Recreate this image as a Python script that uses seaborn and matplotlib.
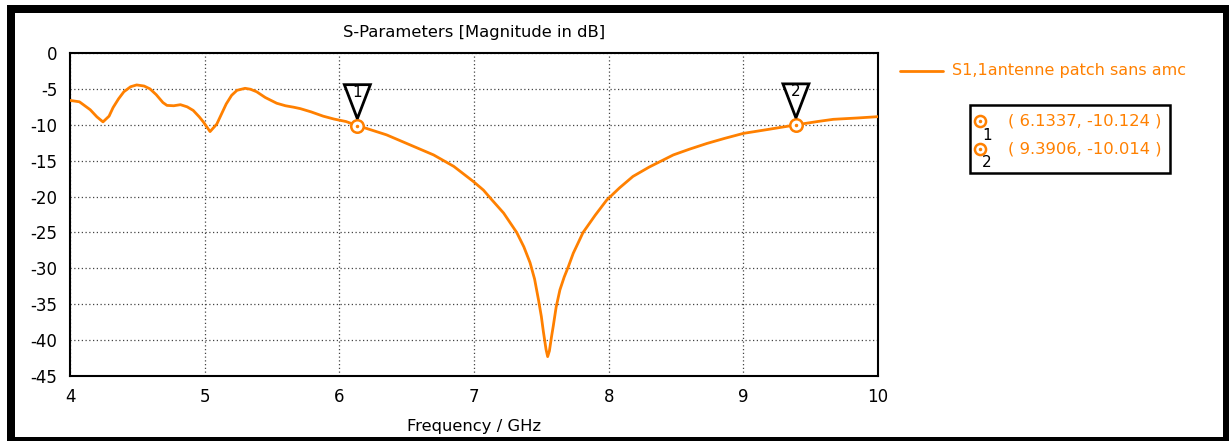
import numpy as np
import pandas as pd
import matplotlib
matplotlib.use("Agg")
import matplotlib.pyplot as plt
import matplotlib.transforms as mtransforms
from matplotlib.patches import Polygon, Rectangle
from matplotlib.lines import Line2D
import seaborn as sns

# ---- data ----
freq_ghz = [4.00, 4.07, 4.15, 4.20, 4.245, 4.29, 4.32, 4.36, 4.40, 4.45, 4.495, 4.55,
            4.594, 4.64, 4.69, 4.72, 4.77, 4.82, 4.87, 4.915, 4.96, 4.99, 5.04, 5.09,
            5.12, 5.16, 5.20, 5.24, 5.30, 5.34, 5.386, 5.45, 5.535, 5.60, 5.66, 5.71,
            5.79, 5.88, 5.96, 6.05, 6.1337, 6.2, 6.35, 6.45, 6.6, 6.7, 6.85, 6.995,
            7.07, 7.13, 7.22, 7.317, 7.37, 7.416, 7.45, 7.478, 7.50, 7.515, 7.535,
            7.547, 7.56, 7.575, 7.589, 7.61, 7.638, 7.67, 7.70, 7.737, 7.81, 7.90,
            7.985, 8.08, 8.18, 8.30, 8.48, 8.60, 8.73, 8.86, 9.0, 9.2, 9.3906, 9.55,
            9.668, 9.85, 10.0]
s11_db = [-6.6, -6.8, -7.9, -8.9, -9.6, -8.8, -7.6, -6.4, -5.4, -4.7, -4.45, -4.6,
          -5.0, -5.8, -6.9, -7.3, -7.35, -7.2, -7.5, -8.0, -8.9, -9.6, -10.95, -9.9,
          -8.7, -7.1, -5.9, -5.2, -4.92, -5.05, -5.4, -6.2, -7.0, -7.35, -7.55, -7.75,
          -8.2, -8.8, -9.2, -9.55, -10.124, -10.5, -11.4, -12.2, -13.4, -14.2, -15.8, -17.9,
          -19.1, -20.4, -22.3, -25.0, -27.0, -29.2, -31.5, -34.3, -36.7, -38.8, -41.3,
          -42.3, -41.5, -39.6, -38.0, -35.4, -33.0, -31.2, -29.8, -27.9, -25.0, -22.6,
          -20.5, -18.8, -17.2, -15.9, -14.2, -13.4, -12.6, -11.9, -11.2, -10.6, -10.014, -9.55,
          -9.24, -9.05, -8.87]
marker_ids = ["1", "2"]
marker_x = [6.1337, 9.3906]
marker_y = [-10.124, -10.014]
series_name = "S1,1antenne patch sans amc"
x_ticks = [4, 5, 6, 7, 8, 9, 10]
y_ticks = [0, -5, -10, -15, -20, -25, -30, -35, -40, -45]

ORANGE = "#FF8000"

sns.set_style("white")
plt.rcParams["font.family"] = ["DejaVu Sans"]
plt.rcParams["text.color"] = "black"
plt.rcParams["axes.labelcolor"] = "black"

W, H = 1229, 441
fig = plt.figure(figsize=(W / 100, H / 100), dpi=100)
ax = fig.add_axes([70 / W, 1 - 376 / H, (878 - 70) / W, (376 - 53) / H])

df = pd.DataFrame({"f": freq_ghz, "s": s11_db})
sns.lineplot(data=df, x="f", y="s", ax=ax, color=ORANGE, lw=2.0, sort=False,
             estimator=None, legend=False, zorder=3)

ax.set_xlim(4, 10)
ax.set_ylim(-45, 0)
ax.set_xticks(x_ticks)
ax.set_yticks(y_ticks)
ax.set_xticklabels([str(t) for t in x_ticks])
ax.set_yticklabels([str(t) for t in y_ticks])
ax.tick_params(direction="out", length=5, width=1.5, labelsize=12, colors="black",
               labelcolor="black", pad=4)
ax.grid(True, linestyle=(0, (1, 2)), color="#444444", lw=0.9)
for sp in ax.spines.values():
    sp.set_visible(True)
    sp.set_color("black")
    sp.set_linewidth(1.5)
ax.set_xlabel("")
ax.set_ylabel("")

# title and x label
fig.text(474 / W, 1 - 32 / H, "S-Parameters [Magnitude in dB]", ha="center", va="center",
         fontsize=11.8, color="black")
fig.text(474 / W, 1 - 427 / H, "Frequency / GHz", ha="center", va="center",
         fontsize=11.8, color="black")

# markers on the curve
for mid, mx, my in zip(marker_ids, marker_x, marker_y):
    ax.plot([mx], [my], marker="o", ms=9, mfc="white", mec=ORANGE, mew=1.8, zorder=5, ls="none")
    ax.plot([mx], [my], marker="o", ms=1.5, color=ORANGE, zorder=6, ls="none")
    tr = fig.dpi_scale_trans + mtransforms.ScaledTranslation(mx, my, ax.transData)
    tri = Polygon([(-0.13, 0.41), (0.13, 0.41), (0.0, 0.07)], closed=True, fill=True,
                  facecolor="white", edgecolor="black", lw=2.0, transform=tr, zorder=6,
                  clip_on=False)
    ax.add_patch(tri)
    ax.text(0.0, 0.33, mid, transform=tr, ha="center", va="center", fontsize=11, zorder=7,
            color="black")

# legend (series)
fig.add_artist(Line2D([900 / W, 943 / W], [1 - 71 / H, 1 - 71 / H], color=ORANGE, lw=2.0))
fig.text(952 / W, 1 - 71 / H, series_name, color=ORANGE, ha="left", va="center", fontsize=11.5)

# marker table
fig.add_artist(Rectangle((970 / W, 1 - 173 / H), 200 / W, 68 / H, fill=False,
                         edgecolor="black", lw=1.8))
for i, (mid, mx, my) in enumerate(zip(marker_ids, marker_x, marker_y)):
    yc = 121 + 27.5 * i
    fig.add_artist(Line2D([980 / W], [1 - yc / H], marker="o", ms=8, mfc="white",
                          mec=ORANGE, mew=1.8, ls="none"))
    fig.add_artist(Line2D([980 / W], [1 - yc / H], marker="o", ms=1.5, color=ORANGE, ls="none"))
    fig.text(987 / W, 1 - (yc + 14) / H, mid, ha="center", va="center", fontsize=11, color="black")
    fig.text(1008 / W, 1 - yc / H, f"( {mx:.4f}, {my:.3f} )", color=ORANGE,
             ha="left", va="center", fontsize=11.8)

# outer black frame
fig.add_artist(Rectangle((11 / W, 0), (1227 - 11) / W, (441 - 9) / H, fill=False,
                         edgecolor="black", lw=8 * 0.72))

fig.savefig("out.png", dpi=100)
